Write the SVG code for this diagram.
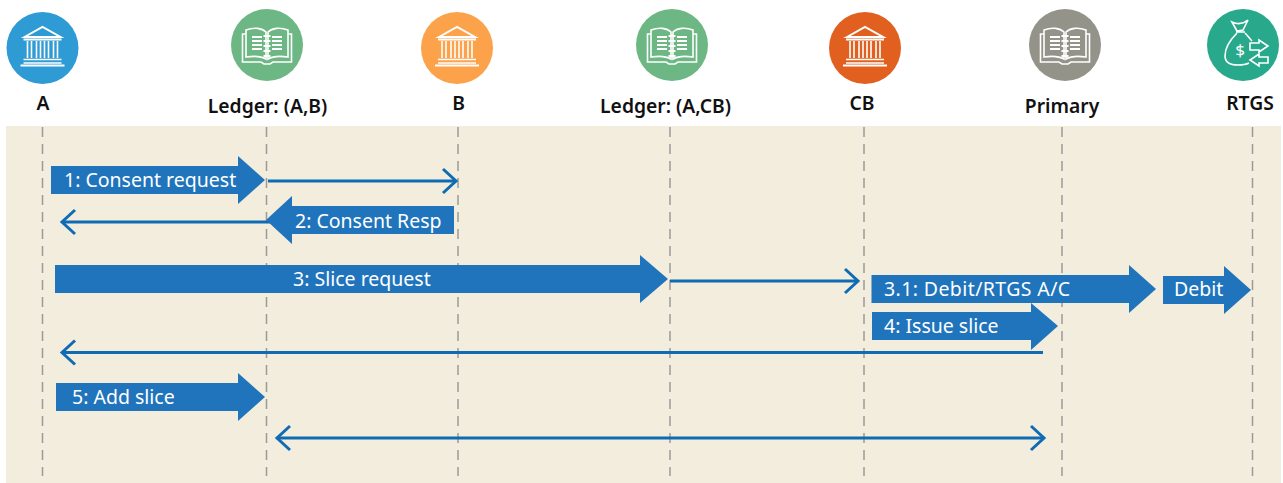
<svg xmlns="http://www.w3.org/2000/svg" width="1283" height="483" viewBox="0 0 1283 483">
<style>
.lbl{font-family:"Noto Sans","Open Sans",sans-serif;font-size:19.300px;font-weight:600;fill:#111;text-anchor:middle}
.msg{font-family:"Noto Sans","Open Sans",sans-serif;font-size:19.500px;fill:#fff}
.life{stroke:#9a9a9a;stroke-width:1.500;stroke-dasharray:10 7;fill:none}
.blk{fill:#1f74bc}
.ln{stroke:#0f6cb4;stroke-width:3;fill:none}
.ic{fill:none;stroke:#fff;stroke-width:1.600}
</style>
<defs>
<marker id="open" markerUnits="userSpaceOnUse" markerWidth="18" markerHeight="28" refX="15" refY="14" orient="auto-start-reverse"><path d="M2 2 L15 14 L2 26" fill="none" stroke="#0f6cb4" stroke-width="3"/></marker>
<g id="bank" class="ic">
<path d="M-18 -10 L0 -20 L18 -10 Z M-19 -7.500 H19" stroke-width="2"/>
<path d="M-15 -6 V11 M-11 -6 V11 M-6 -6 V11 M-2 -6 V11 M2 -6 V11 M6 -6 V11 M11 -6 V11 M15 -6 V11"/>
<path d="M-19 12.500 H19 M-19 16 H19"/>
<path d="M-22 18.500 H22" stroke-width="2"/>
</g>
<g id="book" class="ic">
<path d="M-21 -15 C-13 -18 -5 -17 -1 -13 V14 C-6 11 -14 11 -21 12 Z M21 -15 C13 -18 5 -17 1 -13 V14 C6 11 14 11 21 12 Z"/>
<path d="M-21 -11 H-24.500 V17 H-6 L-3 19 H3 L6 17 H24.500 V-11 H21"/>
<path d="M-15 -8 H-5 M-15 -4 H-5 M-15 0 H-5 M-15 4 H-5 M5 -8 H15 M5 -4 H15 M5 0 H15 M5 4 H15" stroke-width="1.800"/>
<path d="M-3.500 -9 H3.500 M-3.500 -4 H3.500 M-3.500 1 H3.500 M-3.500 6 H3.500 M-3.500 11 H3.500" stroke-width="1.800"/>
</g>
</defs>
<rect x="6" y="126" width="1275" height="357" fill="#f3eddd"/>
<g id="lifelines">
<path class="life" d="M42.500 127 V476"/>
<path class="life" d="M266.500 127 V476"/>
<path class="life" d="M458 127 V476"/>
<path class="life" d="M670 127 V476"/>
<path class="life" d="M864 127 V476"/>
<path class="life" d="M1062 127 V476"/>
<path class="life" d="M1252.500 127 V476"/>
</g>
<g id="node-a"><circle cx="42.500" cy="48" r="36" fill="#2e9bd4"/><use href="#bank" x="42.500" y="47"/><text class="lbl" x="43" y="110">A</text></g>
<g id="node-ledger-ab"><circle cx="267" cy="45" r="36" fill="#6db784"/><use href="#book" x="267" y="45"/><text class="lbl" x="267.500" y="113">Ledger: (A,B)</text></g>
<g id="node-b"><circle cx="457" cy="48" r="36" fill="#fba24b"/><use href="#bank" x="457" y="47"/><text class="lbl" x="458.500" y="110">B</text></g>
<g id="node-ledger-acb"><circle cx="672" cy="45" r="36" fill="#6db784"/><use href="#book" x="672" y="45"/><text class="lbl" x="665.500" y="113">Ledger: (A,CB)</text></g>
<g id="node-cb"><circle cx="865" cy="48" r="36" fill="#e1601f"/><use href="#bank" x="865" y="47"/><text class="lbl" x="862" y="110">CB</text></g>
<g id="node-primary"><circle cx="1065" cy="45" r="36" fill="#93938a"/><use href="#book" x="1065" y="45"/><text class="lbl" x="1062" y="113">Primary</text></g>
<g id="node-rtgs"><circle cx="1243" cy="45" r="36" fill="#28a98b"/>
<g class="ic"><path d="M1232 22 C1238 25 1243 24 1248 20 L1243 30 L1237 31 Z M1236 32 H1245"/>
<path d="M1237 33 C1229 41 1225 50 1225 56 C1225 63 1231 65 1238 65 C1241 65 1245 65 1249 63"/>
<path d="M1245 33 C1248 36 1250 39 1252 41"/>
<path d="M1250 43 H1259 V40 L1268 46 L1259 52 V50 H1250 Z"/>
<path d="M1268 57 H1259 V54 L1250 60 L1259 66 V63 H1268 Z"/></g>
<text x="1240" y="56" font-family="Noto Sans,sans-serif" font-size="17" fill="#fff" text-anchor="middle">$</text>
<text class="lbl" x="1250" y="110">RTGS</text></g>
<g id="connectors">
<path class="blk" d="M51 166 H238 V156 L265 180 L238 204 V194 H51 Z"/>
<path class="ln" d="M268 181 H456" marker-end="url(#open)"/>
<path class="ln" d="M270 222 H62" marker-end="url(#open)"/>
<path class="blk" d="M454 206 H292 V196 L266 220 L292 244 V234 H454 Z"/>
<path class="blk" d="M55 265 H640 V255 L668 279 L640 303 V293 H55 Z"/>
<path class="ln" d="M670 281 H858" marker-end="url(#open)"/>
<path class="blk" d="M871.500 275 H1129 V265 L1156 289 L1129 313 V303 H871.500 Z"/>
<path class="blk" d="M1163 276 H1224 V266 L1251 290 L1224 314 V304 H1163 Z"/>
<path class="blk" d="M872 312 H1031 V303 L1058 326 L1031 350 V340 H872 Z"/>
<path class="ln" d="M1043 352.500 H62" marker-end="url(#open)"/>
<path class="blk" d="M56 383 H238 V373 L265 397 L238 421 V411 H56 Z"/>
<path class="ln" d="M277 438 H1044" marker-start="url(#open)" marker-end="url(#open)"/>
</g>
<g id="labels">
<text class="msg" x="64" y="187">1: Consent request</text>
<text class="msg" x="295" y="228">2: Consent Resp</text>
<text class="msg" x="293" y="286">3: Slice request</text>
<text class="msg" x="884" y="296" letter-spacing="0.400">3.1: Debit/RTGS A/C</text>
<text class="msg" x="1174" y="296">Debit</text>
<text class="msg" x="884" y="333">4: Issue slice</text>
<text class="msg" x="72" y="404">5: Add slice</text>
</g>
</svg>
